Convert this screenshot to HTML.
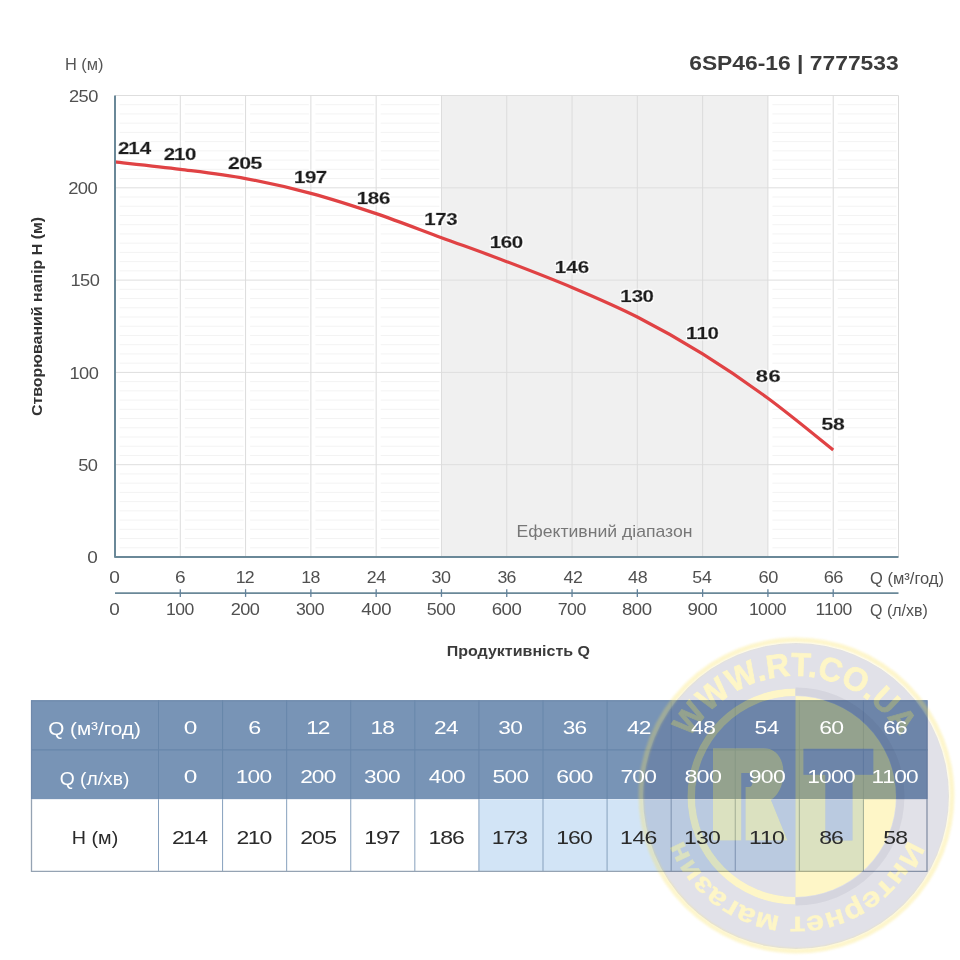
<!DOCTYPE html>
<html><head><meta charset="utf-8"><title>6SP46-16 | 7777533</title>
<style>
html,body{margin:0;padding:0;background:#fff;}
body{width:960px;height:960px;overflow:hidden;}
svg{display:block;font-family:'Liberation Sans', Arial, sans-serif;}
</style></head>
<body>
<svg width="960" height="960" viewBox="0 0 960 960">
<defs><filter id="halo" x="-20%" y="-40%" width="140%" height="180%">
<feMorphology in="SourceAlpha" operator="dilate" radius="1.1" result="d"/>
<feFlood flood-color="#ffffff"/>
<feComposite in2="d" operator="in" result="w"/>
<feMerge><feMergeNode in="w"/><feMergeNode in="SourceGraphic"/></feMerge>
</filter></defs>
<rect width="960" height="960" fill="#fff"/>
<path d="M119.50,547.77H178.29M184.79,547.77H243.58M250.08,547.77H308.88M315.38,547.77H374.17M380.67,547.77H439.46M772.42,547.77H831.21M837.71,547.77H896.50M119.50,538.54H178.29M184.79,538.54H243.58M250.08,538.54H308.88M315.38,538.54H374.17M380.67,538.54H439.46M772.42,538.54H831.21M837.71,538.54H896.50M119.50,529.31H178.29M184.79,529.31H243.58M250.08,529.31H308.88M315.38,529.31H374.17M380.67,529.31H439.46M772.42,529.31H831.21M837.71,529.31H896.50M119.50,520.08H178.29M184.79,520.08H243.58M250.08,520.08H308.88M315.38,520.08H374.17M380.67,520.08H439.46M772.42,520.08H831.21M837.71,520.08H896.50M119.50,510.85H178.29M184.79,510.85H243.58M250.08,510.85H308.88M315.38,510.85H374.17M380.67,510.85H439.46M772.42,510.85H831.21M837.71,510.85H896.50M119.50,501.62H178.29M184.79,501.62H243.58M250.08,501.62H308.88M315.38,501.62H374.17M380.67,501.62H439.46M772.42,501.62H831.21M837.71,501.62H896.50M119.50,492.39H178.29M184.79,492.39H243.58M250.08,492.39H308.88M315.38,492.39H374.17M380.67,492.39H439.46M772.42,492.39H831.21M837.71,492.39H896.50M119.50,483.16H178.29M184.79,483.16H243.58M250.08,483.16H308.88M315.38,483.16H374.17M380.67,483.16H439.46M772.42,483.16H831.21M837.71,483.16H896.50M119.50,473.93H178.29M184.79,473.93H243.58M250.08,473.93H308.88M315.38,473.93H374.17M380.67,473.93H439.46M772.42,473.93H831.21M837.71,473.93H896.50M119.50,455.47H178.29M184.79,455.47H243.58M250.08,455.47H308.88M315.38,455.47H374.17M380.67,455.47H439.46M772.42,455.47H831.21M837.71,455.47H896.50M119.50,446.24H178.29M184.79,446.24H243.58M250.08,446.24H308.88M315.38,446.24H374.17M380.67,446.24H439.46M772.42,446.24H831.21M837.71,446.24H896.50M119.50,437.01H178.29M184.79,437.01H243.58M250.08,437.01H308.88M315.38,437.01H374.17M380.67,437.01H439.46M772.42,437.01H831.21M837.71,437.01H896.50M119.50,427.78H178.29M184.79,427.78H243.58M250.08,427.78H308.88M315.38,427.78H374.17M380.67,427.78H439.46M772.42,427.78H831.21M837.71,427.78H896.50M119.50,418.55H178.29M184.79,418.55H243.58M250.08,418.55H308.88M315.38,418.55H374.17M380.67,418.55H439.46M772.42,418.55H831.21M837.71,418.55H896.50M119.50,409.32H178.29M184.79,409.32H243.58M250.08,409.32H308.88M315.38,409.32H374.17M380.67,409.32H439.46M772.42,409.32H831.21M837.71,409.32H896.50M119.50,400.09H178.29M184.79,400.09H243.58M250.08,400.09H308.88M315.38,400.09H374.17M380.67,400.09H439.46M772.42,400.09H831.21M837.71,400.09H896.50M119.50,390.86H178.29M184.79,390.86H243.58M250.08,390.86H308.88M315.38,390.86H374.17M380.67,390.86H439.46M772.42,390.86H831.21M837.71,390.86H896.50M119.50,381.63H178.29M184.79,381.63H243.58M250.08,381.63H308.88M315.38,381.63H374.17M380.67,381.63H439.46M772.42,381.63H831.21M837.71,381.63H896.50M119.50,363.17H178.29M184.79,363.17H243.58M250.08,363.17H308.88M315.38,363.17H374.17M380.67,363.17H439.46M772.42,363.17H831.21M837.71,363.17H896.50M119.50,353.94H178.29M184.79,353.94H243.58M250.08,353.94H308.88M315.38,353.94H374.17M380.67,353.94H439.46M772.42,353.94H831.21M837.71,353.94H896.50M119.50,344.71H178.29M184.79,344.71H243.58M250.08,344.71H308.88M315.38,344.71H374.17M380.67,344.71H439.46M772.42,344.71H831.21M837.71,344.71H896.50M119.50,335.48H178.29M184.79,335.48H243.58M250.08,335.48H308.88M315.38,335.48H374.17M380.67,335.48H439.46M772.42,335.48H831.21M837.71,335.48H896.50M119.50,326.25H178.29M184.79,326.25H243.58M250.08,326.25H308.88M315.38,326.25H374.17M380.67,326.25H439.46M772.42,326.25H831.21M837.71,326.25H896.50M119.50,317.02H178.29M184.79,317.02H243.58M250.08,317.02H308.88M315.38,317.02H374.17M380.67,317.02H439.46M772.42,317.02H831.21M837.71,317.02H896.50M119.50,307.79H178.29M184.79,307.79H243.58M250.08,307.79H308.88M315.38,307.79H374.17M380.67,307.79H439.46M772.42,307.79H831.21M837.71,307.79H896.50M119.50,298.56H178.29M184.79,298.56H243.58M250.08,298.56H308.88M315.38,298.56H374.17M380.67,298.56H439.46M772.42,298.56H831.21M837.71,298.56H896.50M119.50,289.33H178.29M184.79,289.33H243.58M250.08,289.33H308.88M315.38,289.33H374.17M380.67,289.33H439.46M772.42,289.33H831.21M837.71,289.33H896.50M119.50,270.87H178.29M184.79,270.87H243.58M250.08,270.87H308.88M315.38,270.87H374.17M380.67,270.87H439.46M772.42,270.87H831.21M837.71,270.87H896.50M119.50,261.64H178.29M184.79,261.64H243.58M250.08,261.64H308.88M315.38,261.64H374.17M380.67,261.64H439.46M772.42,261.64H831.21M837.71,261.64H896.50M119.50,252.41H178.29M184.79,252.41H243.58M250.08,252.41H308.88M315.38,252.41H374.17M380.67,252.41H439.46M772.42,252.41H831.21M837.71,252.41H896.50M119.50,243.18H178.29M184.79,243.18H243.58M250.08,243.18H308.88M315.38,243.18H374.17M380.67,243.18H439.46M772.42,243.18H831.21M837.71,243.18H896.50M119.50,233.95H178.29M184.79,233.95H243.58M250.08,233.95H308.88M315.38,233.95H374.17M380.67,233.95H439.46M772.42,233.95H831.21M837.71,233.95H896.50M119.50,224.72H178.29M184.79,224.72H243.58M250.08,224.72H308.88M315.38,224.72H374.17M380.67,224.72H439.46M772.42,224.72H831.21M837.71,224.72H896.50M119.50,215.49H178.29M184.79,215.49H243.58M250.08,215.49H308.88M315.38,215.49H374.17M380.67,215.49H439.46M772.42,215.49H831.21M837.71,215.49H896.50M119.50,206.26H178.29M184.79,206.26H243.58M250.08,206.26H308.88M315.38,206.26H374.17M380.67,206.26H439.46M772.42,206.26H831.21M837.71,206.26H896.50M119.50,197.03H178.29M184.79,197.03H243.58M250.08,197.03H308.88M315.38,197.03H374.17M380.67,197.03H439.46M772.42,197.03H831.21M837.71,197.03H896.50M119.50,178.57H178.29M184.79,178.57H243.58M250.08,178.57H308.88M315.38,178.57H374.17M380.67,178.57H439.46M772.42,178.57H831.21M837.71,178.57H896.50M119.50,169.34H178.29M184.79,169.34H243.58M250.08,169.34H308.88M315.38,169.34H374.17M380.67,169.34H439.46M772.42,169.34H831.21M837.71,169.34H896.50M119.50,160.11H178.29M184.79,160.11H243.58M250.08,160.11H308.88M315.38,160.11H374.17M380.67,160.11H439.46M772.42,160.11H831.21M837.71,160.11H896.50M119.50,150.88H178.29M184.79,150.88H243.58M250.08,150.88H308.88M315.38,150.88H374.17M380.67,150.88H439.46M772.42,150.88H831.21M837.71,150.88H896.50M119.50,141.65H178.29M184.79,141.65H243.58M250.08,141.65H308.88M315.38,141.65H374.17M380.67,141.65H439.46M772.42,141.65H831.21M837.71,141.65H896.50M119.50,132.42H178.29M184.79,132.42H243.58M250.08,132.42H308.88M315.38,132.42H374.17M380.67,132.42H439.46M772.42,132.42H831.21M837.71,132.42H896.50M119.50,123.19H178.29M184.79,123.19H243.58M250.08,123.19H308.88M315.38,123.19H374.17M380.67,123.19H439.46M772.42,123.19H831.21M837.71,123.19H896.50M119.50,113.96H178.29M184.79,113.96H243.58M250.08,113.96H308.88M315.38,113.96H374.17M380.67,113.96H439.46M772.42,113.96H831.21M837.71,113.96H896.50M119.50,104.73H178.29M184.79,104.73H243.58M250.08,104.73H308.88M315.38,104.73H374.17M380.67,104.73H439.46M772.42,104.73H831.21M837.71,104.73H896.50" stroke="#f3f3f3" stroke-width="1" fill="none"/>
<rect x="441.46" y="95.5" width="326.46" height="461.5" fill="#f0f0f0"/>
<line x1="115.0" x2="898.5" y1="464.70" y2="464.70" stroke="#dedede" stroke-width="1"/>
<line x1="115.0" x2="898.5" y1="372.40" y2="372.40" stroke="#dedede" stroke-width="1"/>
<line x1="115.0" x2="898.5" y1="280.10" y2="280.10" stroke="#dedede" stroke-width="1"/>
<line x1="115.0" x2="898.5" y1="187.80" y2="187.80" stroke="#dedede" stroke-width="1"/>
<line x1="115.0" x2="898.5" y1="95.50" y2="95.50" stroke="#dedede" stroke-width="1"/>
<line x1="180.29" x2="180.29" y1="95.5" y2="557.0" stroke="#dcdcdc" stroke-width="1"/>
<line x1="245.58" x2="245.58" y1="95.5" y2="557.0" stroke="#dcdcdc" stroke-width="1"/>
<line x1="310.88" x2="310.88" y1="95.5" y2="557.0" stroke="#dcdcdc" stroke-width="1"/>
<line x1="376.17" x2="376.17" y1="95.5" y2="557.0" stroke="#dcdcdc" stroke-width="1"/>
<line x1="441.46" x2="441.46" y1="95.5" y2="557.0" stroke="#dcdcdc" stroke-width="1"/>
<line x1="506.75" x2="506.75" y1="95.5" y2="557.0" stroke="#dcdcdc" stroke-width="1"/>
<line x1="572.04" x2="572.04" y1="95.5" y2="557.0" stroke="#dcdcdc" stroke-width="1"/>
<line x1="637.33" x2="637.33" y1="95.5" y2="557.0" stroke="#dcdcdc" stroke-width="1"/>
<line x1="702.62" x2="702.62" y1="95.5" y2="557.0" stroke="#dcdcdc" stroke-width="1"/>
<line x1="767.92" x2="767.92" y1="95.5" y2="557.0" stroke="#dcdcdc" stroke-width="1"/>
<line x1="833.21" x2="833.21" y1="95.5" y2="557.0" stroke="#dcdcdc" stroke-width="1"/>
<line x1="898.50" x2="898.50" y1="95.5" y2="557.0" stroke="#dcdcdc" stroke-width="1"/>
<path d="M115.00,161.96 C125.88,163.19 158.53,166.57 180.29,169.34 C202.06,172.11 223.82,174.57 245.58,178.57 C267.35,182.57 289.11,187.49 310.88,193.34 C332.64,199.18 354.40,206.26 376.17,213.64 C397.93,221.03 419.69,229.64 441.46,237.64 C463.22,245.64 484.99,253.33 506.75,261.64 C528.51,269.95 550.28,278.25 572.04,287.48 C593.81,296.71 615.57,305.94 637.33,317.02 C659.10,328.10 680.86,340.40 702.62,353.94 C724.39,367.48 746.15,382.25 767.92,398.24 C789.68,414.24 822.33,441.32 833.21,449.93" fill="none" stroke="#e04244" stroke-width="3.2" stroke-linecap="butt"/>
<path d="M115.0,95.5 L115.0,557.0 L898.5,557.0" fill="none" stroke="#6a8898" stroke-width="2" stroke-linejoin="round"/>
<line x1="115.0" x2="898.5" y1="593.1" y2="593.1" stroke="#6a8898" stroke-width="1.8"/>
<line x1="180.29" x2="180.29" y1="589.2" y2="596.9" stroke="#62819a" stroke-width="1.3"/>
<line x1="245.58" x2="245.58" y1="589.2" y2="596.9" stroke="#62819a" stroke-width="1.3"/>
<line x1="310.88" x2="310.88" y1="589.2" y2="596.9" stroke="#62819a" stroke-width="1.3"/>
<line x1="376.17" x2="376.17" y1="589.2" y2="596.9" stroke="#62819a" stroke-width="1.3"/>
<line x1="441.46" x2="441.46" y1="589.2" y2="596.9" stroke="#62819a" stroke-width="1.3"/>
<line x1="506.75" x2="506.75" y1="589.2" y2="596.9" stroke="#62819a" stroke-width="1.3"/>
<line x1="572.04" x2="572.04" y1="589.2" y2="596.9" stroke="#62819a" stroke-width="1.3"/>
<line x1="637.33" x2="637.33" y1="589.2" y2="596.9" stroke="#62819a" stroke-width="1.3"/>
<line x1="702.62" x2="702.62" y1="589.2" y2="596.9" stroke="#62819a" stroke-width="1.3"/>
<line x1="767.92" x2="767.92" y1="589.2" y2="596.9" stroke="#62819a" stroke-width="1.3"/>
<line x1="833.21" x2="833.21" y1="589.2" y2="596.9" stroke="#62819a" stroke-width="1.3"/>
<text transform="translate(516.45,536.70) scale(1.1076,1)" font-size="15.92" font-weight="400" fill="#777" >Ефективний діапазон</text>
<text transform="translate(0,154.20) scale(1.209,1)" x="97.56 106.09 115.62" y="0" font-size="16.91" font-weight="700" fill="#1d1d1d" stroke="#1d1d1d" stroke-width="0.45" filter="url(#halo)">214</text>
<text transform="translate(0,160.00) scale(1.209,1)" x="135.41 143.94 153.06" y="0" font-size="16.91" font-weight="700" fill="#1d1d1d" stroke="#1d1d1d" stroke-width="0.45" filter="url(#halo)">210</text>
<text transform="translate(0,169.20) scale(1.256,1)" x="181.56 190.45 199.47" y="0" font-size="16.91" font-weight="700" fill="#1d1d1d" stroke="#1d1d1d" stroke-width="0.45" filter="url(#halo)">205</text>
<text transform="translate(0,183.30) scale(1.209,1)" x="243.11 252.31 261.23" y="0" font-size="16.91" font-weight="700" fill="#1d1d1d" stroke="#1d1d1d" stroke-width="0.45" filter="url(#halo)">197</text>
<text transform="translate(0,204.20) scale(1.209,1)" x="295.02 304.28 313.40" y="0" font-size="16.91" font-weight="700" fill="#1d1d1d" stroke="#1d1d1d" stroke-width="0.45" filter="url(#halo)">186</text>
<text transform="translate(0,224.60) scale(1.209,1)" x="350.94 360.01 369.15" y="0" font-size="16.91" font-weight="700" fill="#1d1d1d" stroke="#1d1d1d" stroke-width="0.45" filter="url(#halo)">173</text>
<text transform="translate(0,247.50) scale(1.209,1)" x="405.06 414.23 423.22" y="0" font-size="16.91" font-weight="700" fill="#1d1d1d" stroke="#1d1d1d" stroke-width="0.45" filter="url(#halo)">160</text>
<text transform="translate(0,273.30) scale(1.209,1)" x="458.78 468.31 477.85" y="0" font-size="16.91" font-weight="700" fill="#1d1d1d" stroke="#1d1d1d" stroke-width="0.45" filter="url(#halo)">146</text>
<text transform="translate(0,302.00) scale(1.209,1)" x="513.05 522.46 531.44" y="0" font-size="16.91" font-weight="700" fill="#1d1d1d" stroke="#1d1d1d" stroke-width="0.45" filter="url(#halo)">130</text>
<text transform="translate(0,338.75) scale(1.209,1)" x="567.33 576.06 585.18" y="0" font-size="16.91" font-weight="700" fill="#1d1d1d" stroke="#1d1d1d" stroke-width="0.45" filter="url(#halo)">110</text>
<text transform="translate(0,381.50) scale(1.300,1)" x="581.40 591.19" y="0" font-size="16.91" font-weight="700" fill="#1d1d1d" stroke="#1d1d1d" stroke-width="0.45" filter="url(#halo)">86</text>
<text transform="translate(0,430.40) scale(1.249,1)" x="657.70 666.93" y="0" font-size="16.91" font-weight="700" fill="#1d1d1d" stroke="#1d1d1d" stroke-width="0.45" filter="url(#halo)">58</text>
<text transform="translate(0,101.65) scale(1.116,1)" x="61.84 70.32 78.98" y="0" font-size="16.33" font-weight="400" fill="#505050" >250</text>
<text transform="translate(0,193.95) scale(1.128,1)" x="60.47 68.96 77.65" y="0" font-size="16.33" font-weight="400" fill="#505050" >200</text>
<text transform="translate(0,286.25) scale(1.116,1)" x="63.22 71.74 80.39" y="0" font-size="16.33" font-weight="400" fill="#505050" >150</text>
<text transform="translate(0,378.55) scale(1.116,1)" x="62.20 70.74 79.44" y="0" font-size="16.33" font-weight="400" fill="#505050" >100</text>
<text transform="translate(0,470.85) scale(1.116,1)" x="70.04 78.69" y="0" font-size="16.33" font-weight="400" fill="#505050" >50</text>
<text transform="translate(0,563.15) scale(1.163,1)" x="75.02" y="0" font-size="16.33" font-weight="400" fill="#505050" >0</text>
<text transform="translate(0,582.90) scale(1.200,1)" x="91.11" y="0" font-size="15.90" font-weight="400" fill="#505050" >0</text>
<text transform="translate(0,582.90) scale(1.200,1)" x="145.94" y="0" font-size="15.90" font-weight="400" fill="#505050" >6</text>
<text transform="translate(0,582.90) scale(1.116,1)" x="211.29 219.42" y="0" font-size="15.90" font-weight="400" fill="#505050" >12</text>
<text transform="translate(0,582.90) scale(1.116,1)" x="269.96 278.20" y="0" font-size="15.90" font-weight="400" fill="#505050" >18</text>
<text transform="translate(0,582.90) scale(1.116,1)" x="328.64 337.19" y="0" font-size="15.90" font-weight="400" fill="#505050" >24</text>
<text transform="translate(0,582.90) scale(1.130,1)" x="381.82 390.20" y="0" font-size="15.90" font-weight="400" fill="#505050" >30</text>
<text transform="translate(0,582.90) scale(1.116,1)" x="445.72 453.94" y="0" font-size="15.90" font-weight="400" fill="#505050" >36</text>
<text transform="translate(0,582.90) scale(1.116,1)" x="504.93 513.37" y="0" font-size="15.90" font-weight="400" fill="#505050" >42</text>
<text transform="translate(0,582.90) scale(1.125,1)" x="558.32 566.86" y="0" font-size="15.90" font-weight="400" fill="#505050" >48</text>
<text transform="translate(0,582.90) scale(1.119,1)" x="618.69 627.39" y="0" font-size="15.90" font-weight="400" fill="#505050" >54</text>
<text transform="translate(0,582.90) scale(1.145,1)" x="662.51 670.89" y="0" font-size="15.90" font-weight="400" fill="#505050" >60</text>
<text transform="translate(0,582.90) scale(1.151,1)" x="715.77 723.97" y="0" font-size="15.90" font-weight="400" fill="#505050" >66</text>
<text transform="translate(0,615.00) scale(1.200,1)" x="91.15" y="0" font-size="15.76" font-weight="400" fill="#505050" >0</text>
<text transform="translate(0,615.00) scale(1.116,1)" x="148.74 156.98 165.38" y="0" font-size="15.76" font-weight="400" fill="#505050" >100</text>
<text transform="translate(0,615.00) scale(1.154,1)" x="199.96 208.13 216.50" y="0" font-size="15.76" font-weight="400" fill="#505050" >200</text>
<text transform="translate(0,615.00) scale(1.125,1)" x="263.10 271.41 279.80" y="0" font-size="15.76" font-weight="400" fill="#505050" >300</text>
<text transform="translate(0,615.00) scale(1.176,1)" x="307.28 315.77 324.12" y="0" font-size="15.76" font-weight="400" fill="#505050" >400</text>
<text transform="translate(0,615.00) scale(1.138,1)" x="374.98 383.31 391.69" y="0" font-size="15.76" font-weight="400" fill="#505050" >500</text>
<text transform="translate(0,615.00) scale(1.184,1)" x="415.35 423.62 431.96" y="0" font-size="15.76" font-weight="400" fill="#505050" >600</text>
<text transform="translate(0,615.00) scale(1.132,1)" x="492.72 500.91 509.29" y="0" font-size="15.76" font-weight="400" fill="#505050" >700</text>
<text transform="translate(0,615.00) scale(1.182,1)" x="526.31 534.57 542.92" y="0" font-size="15.76" font-weight="400" fill="#505050" >800</text>
<text transform="translate(0,615.00) scale(1.193,1)" x="576.38 584.58 592.92" y="0" font-size="15.76" font-weight="400" fill="#505050" >900</text>
<text transform="translate(0,615.00) scale(1.116,1)" x="671.09 679.33 687.72 696.12" y="0" font-size="15.76" font-weight="400" fill="#505050" >1000</text>
<text transform="translate(0,615.00) scale(1.116,1)" x="730.64 738.30 746.54 754.93" y="0" font-size="15.76" font-weight="400" fill="#505050" >1100</text>
<text transform="translate(870.02,584.00) scale(1.0331,1)" font-size="15.99" font-weight="400" fill="#505050" >Q (м³/год)</text>
<text transform="translate(870.05,616.00) scale(0.9975,1)" font-size="15.99" font-weight="400" fill="#505050" >Q (л/хв)</text>
<text transform="translate(64.90,70.00) scale(1.0449,1)" font-size="15.70" font-weight="400" fill="#555" >H (м)</text>
<text transform="translate(689.18,70.20) scale(1.0991,1)" font-size="20.78" font-weight="700" fill="#3b3b3b" >6SP46-16 | 7777533</text>
<text transform="translate(446.74,656.25) scale(1.1132,1)" font-size="14.39" font-weight="700" fill="#3b3b3b" >Продуктивність Q</text>
<g transform="translate(42.1,415.4) rotate(-90)"><text transform="translate(-0.65,0.00) scale(1.0976,1)" font-size="14.53" font-weight="700" fill="#333" >Створюваний напір Н (м)</text></g>
<rect x="31.0" y="700.2" width="896.5" height="99.19999999999993" fill="#7894b6"/>
<rect x="31.0" y="799.4" width="896.5" height="71.89999999999998" fill="#ffffff"/>
<rect x="478.92" y="799.4" width="64.08" height="71.89999999999998" fill="#d2e4f6"/>
<rect x="543.00" y="799.4" width="64.08" height="71.89999999999998" fill="#d2e4f6"/>
<rect x="607.08" y="799.4" width="64.08" height="71.89999999999998" fill="#d2e4f6"/>
<rect x="671.17" y="799.4" width="64.08" height="71.89999999999998" fill="#d2e4f6"/>
<rect x="735.25" y="799.4" width="64.08" height="71.89999999999998" fill="#d2e4f6"/>
<rect x="799.33" y="799.4" width="64.08" height="71.89999999999998" fill="#d2e4f6"/>
<line x1="31.0" x2="927.5" y1="749.9" y2="749.9" stroke="#6786aa" stroke-width="1.2"/>
<line x1="158.50" x2="158.50" y1="700.2" y2="799.4" stroke="#6786aa" stroke-width="1"/>
<line x1="222.58" x2="222.58" y1="700.2" y2="799.4" stroke="#6786aa" stroke-width="1"/>
<line x1="286.67" x2="286.67" y1="700.2" y2="799.4" stroke="#6786aa" stroke-width="1"/>
<line x1="350.75" x2="350.75" y1="700.2" y2="799.4" stroke="#6786aa" stroke-width="1"/>
<line x1="414.83" x2="414.83" y1="700.2" y2="799.4" stroke="#6786aa" stroke-width="1"/>
<line x1="478.92" x2="478.92" y1="700.2" y2="799.4" stroke="#6786aa" stroke-width="1"/>
<line x1="543.00" x2="543.00" y1="700.2" y2="799.4" stroke="#6786aa" stroke-width="1"/>
<line x1="607.08" x2="607.08" y1="700.2" y2="799.4" stroke="#6786aa" stroke-width="1"/>
<line x1="671.17" x2="671.17" y1="700.2" y2="799.4" stroke="#6786aa" stroke-width="1"/>
<line x1="735.25" x2="735.25" y1="700.2" y2="799.4" stroke="#6786aa" stroke-width="1"/>
<line x1="799.33" x2="799.33" y1="700.2" y2="799.4" stroke="#6786aa" stroke-width="1"/>
<line x1="863.42" x2="863.42" y1="700.2" y2="799.4" stroke="#6786aa" stroke-width="1"/>
<line x1="158.50" x2="158.50" y1="799.4" y2="871.3" stroke="#86a0bd" stroke-width="1"/>
<line x1="222.58" x2="222.58" y1="799.4" y2="871.3" stroke="#86a0bd" stroke-width="1"/>
<line x1="286.67" x2="286.67" y1="799.4" y2="871.3" stroke="#86a0bd" stroke-width="1"/>
<line x1="350.75" x2="350.75" y1="799.4" y2="871.3" stroke="#86a0bd" stroke-width="1"/>
<line x1="414.83" x2="414.83" y1="799.4" y2="871.3" stroke="#86a0bd" stroke-width="1"/>
<line x1="478.92" x2="478.92" y1="799.4" y2="871.3" stroke="#86a0bd" stroke-width="1"/>
<line x1="543.00" x2="543.00" y1="799.4" y2="871.3" stroke="#86a0bd" stroke-width="1"/>
<line x1="607.08" x2="607.08" y1="799.4" y2="871.3" stroke="#86a0bd" stroke-width="1"/>
<line x1="671.17" x2="671.17" y1="799.4" y2="871.3" stroke="#86a0bd" stroke-width="1"/>
<line x1="735.25" x2="735.25" y1="799.4" y2="871.3" stroke="#86a0bd" stroke-width="1"/>
<line x1="799.33" x2="799.33" y1="799.4" y2="871.3" stroke="#86a0bd" stroke-width="1"/>
<line x1="863.42" x2="863.42" y1="799.4" y2="871.3" stroke="#86a0bd" stroke-width="1"/>
<path d="M31.5,799.4 L31.5,871.3 L927.0,871.3 L927.0,799.4" fill="none" stroke="#95a3b3" stroke-width="1.3"/>
<path d="M31.5,799.4 L31.5,700.8000000000001 L927.0,700.8000000000001 L927.0,799.4" fill="none" stroke="#6f89ab" stroke-width="1.2"/>
<defs><filter id="wmblur" x="-10%" y="-10%" width="120%" height="120%"><feGaussianBlur stdDeviation="1"/></filter><filter id="wmf" x="0" y="0" width="1" height="1" filterUnits="objectBoundingBox" color-interpolation-filters="sRGB">
<feColorMatrix type="matrix" values="0.9725 0 0.1765 0 0  0.8392 0 0.1961 0 0  0.0000 0 0.3725 0 0  0.22 0 0.145 0 0" result="c"/>
<feComposite in="c" in2="SourceAlpha" operator="in"/>
</filter></defs>
<g filter="url(#wmf)">
<circle cx="796.0" cy="796.0" r="153" fill="#0000ff"/>
<path d="M795.5,688.5 A108,108 0 0 0 795.5,904.5 Z" fill="#ff0000"/>
<path d="M795.5,688.5 A108,108 0 0 1 795.5,904.5 Z" fill="#0000ff"/>
<path d="M795.5,696.0 A100.5,100.5 0 0 0 795.5,897.0 Z" fill="#0000ff"/>
<path d="M795.5,696.0 A100.5,100.5 0 0 1 795.5,897.0 Z" fill="#ff0000"/>
<path d="M713,748.2 L764,748.2 C776,748.2 783.5,758 783.5,773 C783.5,787 777,796 771,800 L787.5,840.4 L745.5,840.4 L745.5,787 L749,787 C751,787 752.5,785 752.5,782 L752.5,773 L741.3,773 L741.3,840.4 L713,840.4 Z" fill="#ff0000"/>
<path d="M803.5,748.8 L873.3,748.8 L873.3,774.8 L852.5,774.8 L852.5,840.4 L825.4,840.4 L825.4,774.8 L803.5,774.8 Z" fill="#0000ff"/>
<path id="wmc" d="M675.0,796.5 A120.5,120.5 0 1 1 916.0,796.5 A120.5,120.5 0 1 1 675.0,796.5" fill="none"/>
<text font-family="Liberation Sans, Arial, sans-serif" font-weight="700" font-size="33" fill="#ff0000" stroke="#ff0000" stroke-width="0.9" stroke-linejoin="round"><textPath href="#wmc" startOffset="61.0" textLength="254.5" lengthAdjust="spacingAndGlyphs">WWW.RT.CO.UA</textPath></text>
<text font-family="Liberation Sans, Arial, sans-serif" font-weight="700" font-size="27.5" fill="#ff0000" stroke="#ff0000" stroke-width="0.6" stroke-linejoin="round"><textPath href="#wmc" startOffset="422.7" textLength="290.2" lengthAdjust="spacingAndGlyphs">Интернет магазин</textPath></text>
</g>
<circle cx="796.5" cy="795.5" r="155.5" fill="none" stroke="rgb(250,225,90)" stroke-width="5" opacity="0.3" filter="url(#wmblur)"/><path d="M795.5,687.5 A109,109 0 0 1 795.5,905.5 L795.5,897.5 A101,101 0 0 0 795.5,695.5 Z" fill="rgb(40,40,70)" opacity="0.06"/>
<text transform="translate(48.23,734.60) scale(1.0933,1)" font-size="18.90" font-weight="400" fill="#ffffff" >Q (м³/год)</text>
<text transform="translate(59.69,784.50) scale(1.0207,1)" font-size="18.90" font-weight="400" fill="#ffffff" >Q (л/хв)</text>
<text transform="translate(71.78,844.00) scale(1.0441,1)" font-size="18.90" font-weight="400" fill="#2a2a2a" >H (м)</text>
<text transform="translate(0,733.60) scale(1.300,1)" x="141.31" y="0" font-size="18.77" font-weight="400" fill="#ffffff" >0</text>
<text transform="translate(0,733.60) scale(1.243,1)" x="199.73" y="0" font-size="18.77" font-weight="400" fill="#ffffff" >6</text>
<text transform="translate(0,733.60) scale(1.209,1)" x="253.38 262.91" y="0" font-size="18.77" font-weight="400" fill="#ffffff" >12</text>
<text transform="translate(0,733.60) scale(1.209,1)" x="306.48 316.13" y="0" font-size="18.77" font-weight="400" fill="#ffffff" >18</text>
<text transform="translate(0,733.60) scale(1.209,1)" x="358.93 368.95" y="0" font-size="18.77" font-weight="400" fill="#ffffff" >24</text>
<text transform="translate(0,733.60) scale(1.209,1)" x="412.16 421.99" y="0" font-size="18.77" font-weight="400" fill="#ffffff" >30</text>
<text transform="translate(0,733.60) scale(1.209,1)" x="465.49 475.12" y="0" font-size="18.77" font-weight="400" fill="#ffffff" >36</text>
<text transform="translate(0,733.60) scale(1.209,1)" x="518.52 528.40" y="0" font-size="18.77" font-weight="400" fill="#ffffff" >42</text>
<text transform="translate(0,733.60) scale(1.212,1)" x="570.24 580.25" y="0" font-size="18.77" font-weight="400" fill="#ffffff" >48</text>
<text transform="translate(0,733.60) scale(1.209,1)" x="624.12 634.30" y="0" font-size="18.77" font-weight="400" fill="#ffffff" >54</text>
<text transform="translate(0,733.60) scale(1.226,1)" x="668.26 678.07" y="0" font-size="18.77" font-weight="400" fill="#ffffff" >60</text>
<text transform="translate(0,733.60) scale(1.209,1)" x="730.64 740.26" y="0" font-size="18.77" font-weight="400" fill="#ffffff" >66</text>
<text transform="translate(0,782.90) scale(1.300,1)" x="141.31" y="0" font-size="18.77" font-weight="400" fill="#ffffff" >0</text>
<text transform="translate(0,782.90) scale(1.209,1)" x="195.02 204.75 214.68" y="0" font-size="18.77" font-weight="400" fill="#ffffff" >100</text>
<text transform="translate(0,782.90) scale(1.209,1)" x="248.26 257.96 267.88" y="0" font-size="18.77" font-weight="400" fill="#ffffff" >200</text>
<text transform="translate(0,782.90) scale(1.209,1)" x="301.16 310.99 320.91" y="0" font-size="18.77" font-weight="400" fill="#ffffff" >300</text>
<text transform="translate(0,782.90) scale(1.211,1)" x="354.04 364.13 374.05" y="0" font-size="18.77" font-weight="400" fill="#ffffff" >400</text>
<text transform="translate(0,782.90) scale(1.209,1)" x="407.37 417.23 427.15" y="0" font-size="18.77" font-weight="400" fill="#ffffff" >500</text>
<text transform="translate(0,782.90) scale(1.228,1)" x="453.08 462.89 472.80" y="0" font-size="18.77" font-weight="400" fill="#ffffff" >600</text>
<text transform="translate(0,782.90) scale(1.212,1)" x="511.89 521.58 531.50" y="0" font-size="18.77" font-weight="400" fill="#ffffff" >700</text>
<text transform="translate(0,782.90) scale(1.242,1)" x="551.10 560.90 570.79" y="0" font-size="18.77" font-weight="400" fill="#ffffff" >800</text>
<text transform="translate(0,782.90) scale(1.228,1)" x="609.76 619.50 629.40" y="0" font-size="18.77" font-weight="400" fill="#ffffff" >900</text>
<text transform="translate(0,782.90) scale(1.209,1)" x="667.64 677.38 687.30 697.22" y="0" font-size="18.77" font-weight="400" fill="#ffffff" >1000</text>
<text transform="translate(0,782.90) scale(1.209,1)" x="720.79 729.83 739.57 749.49" y="0" font-size="18.77" font-weight="400" fill="#ffffff" >1100</text>
<text transform="translate(0,843.60) scale(1.209,1)" x="142.19 151.33 161.54" y="0" font-size="19.05" font-weight="400" fill="#2a2a2a" >214</text>
<text transform="translate(0,843.60) scale(1.209,1)" x="195.71 204.85 214.73" y="0" font-size="19.05" font-weight="400" fill="#2a2a2a" >210</text>
<text transform="translate(0,843.60) scale(1.209,1)" x="248.32 258.16 268.21" y="0" font-size="19.05" font-weight="400" fill="#2a2a2a" >205</text>
<text transform="translate(0,843.60) scale(1.209,1)" x="301.25 310.99 320.67" y="0" font-size="19.05" font-weight="400" fill="#2a2a2a" >197</text>
<text transform="translate(0,843.60) scale(1.209,1)" x="354.37 364.18 373.94" y="0" font-size="19.05" font-weight="400" fill="#2a2a2a" >186</text>
<text transform="translate(0,843.60) scale(1.209,1)" x="406.76 416.41 426.27" y="0" font-size="19.05" font-weight="400" fill="#2a2a2a" >173</text>
<text transform="translate(0,843.60) scale(1.209,1)" x="460.16 469.83 479.81" y="0" font-size="19.05" font-weight="400" fill="#2a2a2a" >160</text>
<text transform="translate(0,843.60) scale(1.209,1)" x="512.93 523.13 533.17" y="0" font-size="19.05" font-weight="400" fill="#2a2a2a" >146</text>
<text transform="translate(0,843.60) scale(1.209,1)" x="565.83 575.73 585.71" y="0" font-size="19.05" font-weight="400" fill="#2a2a2a" >130</text>
<text transform="translate(0,843.60) scale(1.209,1)" x="619.43 628.60 638.49" y="0" font-size="19.05" font-weight="400" fill="#2a2a2a" >110</text>
<text transform="translate(0,843.60) scale(1.209,1)" x="677.62 687.39" y="0" font-size="19.05" font-weight="400" fill="#2a2a2a" >86</text>
<text transform="translate(0,843.60) scale(1.209,1)" x="730.62 740.56" y="0" font-size="19.05" font-weight="400" fill="#2a2a2a" >58</text>
</svg>
</body></html>
